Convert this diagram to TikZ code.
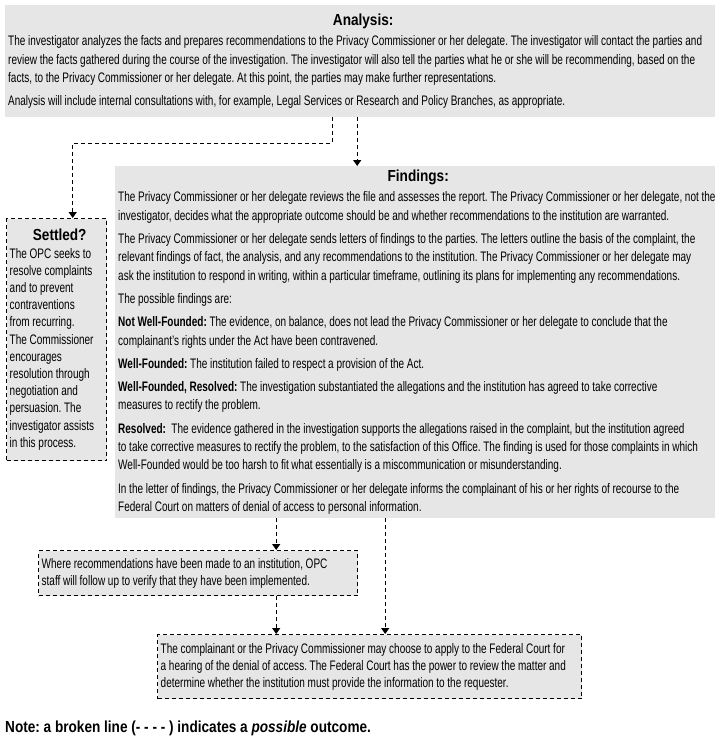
\documentclass[tikz,border=0pt]{standalone}
\usepackage{fontspec}
\setmainfont[FakeStretch=0.725]{Liberation Sans}
\newfontfamily\headfont[FakeStretch=0.85]{Liberation Sans}
\usetikzlibrary{arrows.meta}
\definecolor{boxgray}{HTML}{E6E6E6}
\newcommand\boxtitle[1]{\makebox[\hsize]{\headfont\fontsize{16}{18}\selectfont\bfseries #1}}
\newcommand\pad{\leftskip=3pt\relax\rightskip=0pt plus 1fil minus 8pt\relax
    \spaceskip=2.7pt plus 1pt minus 0.6pt\relax}
\frenchspacing
\begin{document}
\begin{tikzpicture}[
        x=1pt, y=-1pt,
        solidbox/.style={fill=boxgray, anchor=north west, align=left, inner xsep=0pt, inner ysep=0pt,
            font=\fontsize{13.8}{18.3}\selectfont\frenchspacing},
        possbox/.style={solidbox, draw, line width=1.4pt, dash pattern=on 4pt off 3pt,
            font=\fontsize{13.8}{17.2}\selectfont\frenchspacing},
        possarrow/.style={draw, line width=1.3pt, dash pattern=on 4pt off 3pt,
            -{Triangle[length=6pt,width=8pt]}},
    ]
    \useasboundingbox (0,0) rectangle (720,750);
    \node[solidbox, text width=710pt, minimum height=112pt](analysis) at (5,5){\pad
        \boxtitle{Analysis:}\\[2pt]
        The investigator analyzes the facts and prepares recommendations to the Privacy Commissioner or her delegate. The investigator will contact the parties and\\
        review the facts gathered during the course of the investigation. The investigator will also tell the parties what he or she will be recommending, based on the\\
        facts, to the Privacy Commissioner or her delegate. At this point, the parties may make further representations.\\[5pt]
        Analysis will include internal consultations with, for example, Legal Services or Research and Policy Branches, as appropriate.\par};
    \node[solidbox, text width=600pt, minimum height=352pt](findings) at (115,166){\pad
        \boxtitle{Findings:}\\[2pt]
        The Privacy Commissioner or her delegate reviews the file and assesses the report. The Privacy Commissioner or her delegate, not the\\
        investigator, decides what the appropriate outcome should be and whether recommendations to the institution are warranted.\\[5pt]
        The Privacy Commissioner or her delegate sends letters of findings to the parties. The letters outline the basis of the complaint, the\\
        relevant findings of fact, the analysis, and any recommendations to the institution. The Privacy Commissioner or her delegate may\\
        ask the institution to respond in writing, within a particular timeframe, outlining its plans for implementing any recommendations.\\[5pt]
        The possible findings are:\\[5pt]
        \textbf{Not Well-Founded:} The evidence, on balance, does not lead the Privacy Commissioner or her delegate to conclude that the\\
        complainant's rights under the Act have been contravened.\\[5pt]
        \textbf{Well-Founded:} The institution failed to respect a provision of the Act.\\[5pt]
        \textbf{Well-Founded, Resolved:} The investigation substantiated the allegations and the institution has agreed to take corrective\\
        measures to rectify the problem.\\[5pt]
        \textbf{Resolved:}\ \ The evidence gathered in the investigation supports the allegations raised in the complaint, but the institution agreed\\
        to take corrective measures to rectify the problem, to the satisfaction of this Office. The finding is used for those complaints in which\\
        Well-Founded would be too harsh to fit what essentially is a miscommunication or misunderstanding.\\[5pt]
        In the letter of findings, the Privacy Commissioner or her delegate informs the complainant of his or her rights of recourse to the\\
        Federal Court on matters of denial of access to personal information.\par};
    \node[possbox, text width=100pt, minimum height=242pt](settled) at (6,218){\pad
        \boxtitle{Settled?}\\
        The OPC seeks to\\ resolve complaints\\ and to prevent\\ contraventions\\ from recurring.\\
        The Commissioner\\ encourages\\ resolution through\\ negotiation and\\ persuasion. The\\
        investigator assists\\ in this process.\par};
    \node[possbox, text width=319pt, minimum height=45pt](followup) at (38,550){\pad
        Where recommendations have been made to an institution, OPC\\
        staff will follow up to verify that they have been implemented.\par};
    \node[possbox, text width=424pt, minimum height=64pt](court) at (157,634){\pad
        The complainant or the Privacy Commissioner may choose to apply to the Federal Court for\\
        a hearing of the denial of access. The Federal Court has the power to review the matter and\\
        determine whether the institution must provide the information to the requester.\par};
    \node[anchor=west, inner sep=0pt, font=\headfont\fontsize{16}{18}\selectfont\bfseries](note) at (5,728)
        {Note: a broken line (- - - - ) indicates a \textit{possible} outcome.};
    \draw[possarrow] ([xshift=-3pt]analysis.south) -- ([xshift=-3pt]analysis.south |- findings.north);
    \draw[possarrow] ([xshift=-28pt]analysis.south) -- ++(0,26) -| ([xshift=16pt]settled.north);
    \draw[possarrow] ([xshift=-139pt]findings.south) -- ([xshift=-139pt]findings.south |- followup.north);
    \draw[possarrow] ([xshift=-30pt]findings.south) -- ([xshift=-30pt]findings.south |- court.north);
    \draw[possarrow] ([xshift=78pt]followup.south) -- ([xshift=78pt]followup.south |- court.north);
\end{tikzpicture}
\end{document}
